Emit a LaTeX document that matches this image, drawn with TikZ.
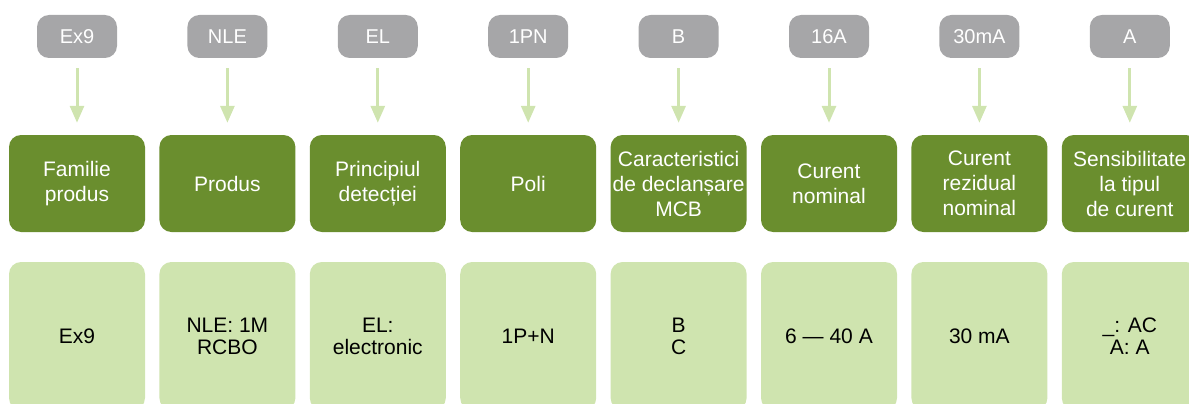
\documentclass[tikz,border=0pt]{standalone}
\usepackage{fontspec}
\setmainfont{Liberation Sans}
\usetikzlibrary{arrows.meta}
\definecolor{codegray}{RGB}{166,166,168}
\definecolor{fieldgreen}{RGB}{106,142,46}
\definecolor{valuegreen}{RGB}{207,228,175}
\tikzset{
  code/.style={fill=codegray, text=white, rounded corners=12pt, minimum width=80pt, minimum height=43pt, inner sep=2pt, font=\fontsize{20}{24}\selectfont},
  field/.style={fill=fieldgreen, text=white, rounded corners=12pt, minimum width=136pt, minimum height=97pt, inner sep=2pt, align=center, font=\fontsize{21}{25}\selectfont},
  value/.style={fill=valuegreen, text=black, rounded corners=12pt, minimum width=136pt, minimum height=148pt, inner sep=2pt, align=center, font=\fontsize{21}{22}\selectfont},
  pointer/.style={draw=valuegreen, line width=3pt, -{Triangle[width=14pt,length=17pt]}, shorten <=10pt, shorten >=12pt}
}
\begin{document}
\begin{tikzpicture}[x=1pt, y=1pt]
\useasboundingbox (0,0) rectangle (1189,-404);
% top codes
\node[code] (c1) at (77,-36.5) {Ex9};
\node[code] (c2) at (227.4,-36.5) {NLE};
\node[code] (c3) at (377.8,-36.5) {EL};
\node[code] (c4) at (528.2,-36.5) {1PN};
\node[code] (c5) at (678.6,-36.5) {B};
\node[code] (c6) at (829,-36.5) {16A};
\node[code] (c7) at (979.4,-36.5) {30mA};
\node[code] (c8) at (1129.8,-36.5) {A};
% field names
\node[field] (f1) at (77,-183.5) {Familie\\produs};
\node[field] (f2) at (227.4,-183.5) {Produs};
\node[field] (f3) at (377.8,-183.5) {Principiul\\detecției};
\node[field] (f4) at (528.2,-183.5) {Poli};
\node[field] (f5) at (678.6,-183.5) {Caracteristici\\de declanșare\\MCB};
\node[field] (f6) at (829,-183.5) {Curent\\nominal};
\node[field] (f7) at (979.4,-183.5) {Curent\\rezidual\\nominal};
\node[field] (f8) at (1129.8,-183.5) {Sensibilitate\\la tipul\\de curent};
% values
\node[value] (v1) at (77,-336) {Ex9};
\node[value] (v2) at (227.4,-336) {NLE: 1M\\RCBO};
\node[value] (v3) at (377.8,-336) {EL:\\electronic};
\node[value] (v4) at (528.2,-336) {1P+N};
\node[value] (v5) at (678.6,-336) {B\\C};
\node[value] (v6) at (829,-336) {6 — 40 A};
\node[value] (v7) at (979.4,-336) {30 mA};
\node[value] (v8) at (1129.8,-336) {\_: AC\\A: A};
% arrows
\draw[pointer] (c1) -- (f1);
\draw[pointer] (c2) -- (f2);
\draw[pointer] (c3) -- (f3);
\draw[pointer] (c4) -- (f4);
\draw[pointer] (c5) -- (f5);
\draw[pointer] (c6) -- (f6);
\draw[pointer] (c7) -- (f7);
\draw[pointer] (c8) -- (f8);
\end{tikzpicture}
\end{document}
